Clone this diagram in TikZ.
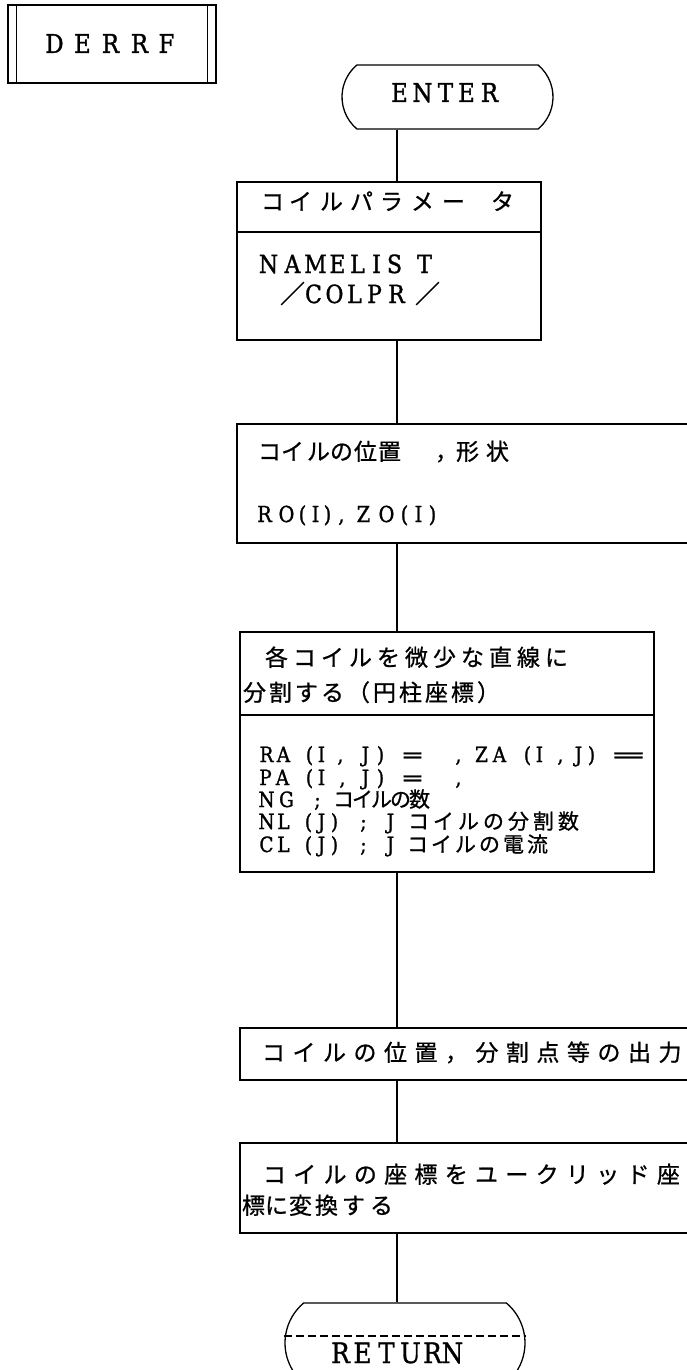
\documentclass[tikz,border=0pt]{standalone}
\usepackage{fontspec}
\usepackage{graphicx}
\setmainfont{DejaVu Serif}[FakeStretch=0.88,FakeBold=1.2]
\newfontfamily\jp{Noto Sans CJK JP}[FakeBold=0.8]
\usetikzlibrary{shapes.misc}
\newdimen\lspos
\def\lsendmark{\lsend}
\newcommand\lsc[3]{\lspos=#1pt\relax\def\lsp{#2pt}\lsloop#3\lsend}
\def\lsloop#1{\def\lsarg{#1}\ifx\lsarg\lsendmark\else\rlap{\hspace*{\lspos}\makebox[0pt]{#1}}\advance\lspos by \lsp\relax\expandafter\lsloop\fi}
\newcommand\putc[2]{\rlap{\hspace*{#1pt}\makebox[0pt]{#2}}}
\newcommand\bigL{\fontsize{26}{30}\selectfont}
\newcommand\retL{\fontsize{28}{32}\selectfont}
\newcommand\midL{\fontsize{25}{29}\selectfont}
\newcommand\smL{\fontsize{21}{25}\selectfont}
\newcommand\roL{\fontsize{22}{26}\selectfont}
\newcommand\jpM{\jp\fontsize{23}{27}\selectfont}
\newcommand\jpS{\jp\fontsize{21}{25}\selectfont}
\tikzset{
  box/.style={draw, line width=1.3pt, rectangle, inner sep=0pt},
  term/.style={draw, line width=1.3pt, rounded rectangle, rounded rectangle arc length=100, inner sep=0pt},
  txt/.style={anchor=base west, inner sep=0pt, outer sep=0pt},
  conn/.style={line width=1.3pt},
}
\begin{document}
\begin{tikzpicture}[x=1pt,y=-1pt]
\clip (0,0) rectangle (687,1370);
\fill[white] (0,0) rectangle (687,1370);
% DERRF
\node[box, minimum width=208pt, minimum height=78pt] (derrf) at (112,44) {};
\draw[conn] ([xshift=9pt]derrf.north west) -- ([xshift=9pt]derrf.south west);
\draw[conn] ([xshift=-9pt]derrf.north east) -- ([xshift=-9pt]derrf.south east);
\node[txt] (tderrf) at (0,53) {\bigL\putc{54}{D}\putc{82}{E}\putc{110}{R}\putc{139}{R}\putc{166}{F}};
% ENTER
\node[term, minimum width=211pt, minimum height=64pt] (enter) at (447.5,97) {};
\node[txt] (tenter) at (0,102) {\bigL\putc{399}{E}\putc{422}{N}\putc{445}{T}\putc{466}{E}\putc{489}{R}};
% box 1
\node[box, minimum width=304pt, minimum height=158pt] (b1) at (389,261) {};
\draw[conn] (b1.west |- 0,232) -- (b1.east |- 0,232);
\node[txt] (t1a) at (0,210) {\jpM\putc{272}{コ}\putc{300}{イ}\putc{331}{ル}\putc{361}{パ}\putc{391}{ラ}\putc{422}{メ}\putc{453}{ー}\putc{502}{タ}};
\node[txt] (t1b) at (0,273) {\midL\putc{268}{N}\putc{292}{A}\putc{315}{M}\putc{337}{E}\putc{357}{L}\putc{376}{I}\putc{394}{S}\putc{424}{T}};
\node[txt] (t1c) at (0,303) {\midL\putc{292}{\jp ／}\putc{313}{C}\putc{334}{O}\putc{354}{L}\putc{374}{P}\putc{396}{R}\putc{427}{\jp ／}};
% box 2
\node[box, minimum width=463pt, minimum height=119pt] (b2) at (468.5,483.5) {};
\node[txt] (t2a) at (0,460) {\jpM\putc{269}{コ}\putc{292}{イ}\putc{318}{ル}\putc{341}{の}\putc{365}{位}\putc{389}{置}\putc{446}{，}\putc{467}{形}\putc{497}{状}};
\node[txt] (t2b) at (0,522) {\roL\putc{264}{R}\putc{286}{O}\putc{302}{(}\putc{315}{I}\putc{327}{)}\putc{341}{,}\putc{363}{Z}\putc{386}{O}\putc{404}{(}\putc{418}{I}\putc{432}{)}};
% box 3
\node[box, minimum width=414pt, minimum height=240pt] (b3) at (447,752) {};
\draw[conn] (b3.west |- 0,715) -- (b3.east |- 0,715);
\node[txt] (t3a) at (0,666) {\jpM\lsc{276}{28}{各コイルを微少な直線に}};
\node[txt] (t3b) at (0,701) {\jpM\lsc{254}{26}{分割する（円柱座標）}};
\node[txt] (t3c) at (0,762) {\smL\putc{266}{R}\putc{283}{A}\putc{309}{(}\putc{321}{I}\putc{340}{,}\putc{365}{J}\putc{380}{)}\putc{412}{\scalebox{1.5}[1]{=}}\putc{458}{,}\putc{481}{Z}\putc{499}{A}\putc{527}{(}\putc{539}{I}\putc{560}{,}\putc{578}{J}\putc{591}{)}\putc{628}{\scalebox{2.4}[1]{=}}};
\node[txt] (t3d) at (0,785) {\smL\putc{265}{P}\putc{282}{A}\putc{309}{(}\putc{321}{I}\putc{342}{,}\putc{365}{J}\putc{380}{)}\putc{412}{\scalebox{1.5}[1]{=}}\putc{458}{,}};
\node[txt] (t3e) at (0,807) {\smL\putc{266}{N}\putc{286}{G}\putc{317}{;}\jpS\lsc{343}{19}{コイルの数}};
\node[txt] (t3f) at (0,829) {\smL\putc{266}{N}\putc{283}{L}\putc{308}{(}\putc{321}{J}\putc{334}{)}\putc{363}{;}\putc{390}{J}\jpS\lsc{418}{25}{コイルの分割数}};
\node[txt] (t3g) at (0,852) {\smL\putc{266}{C}\putc{283}{L}\putc{308}{(}\putc{321}{J}\putc{334}{)}\putc{363}{;}\putc{390}{J}\jpS\lsc{417}{24}{コイルの電流}};
% box 4
\node[box, minimum width=460pt, minimum height=52pt] (b4) at (470,1054) {};
\node[txt] (t4) at (0,1061) {\jpM\lsc{273}{30.5}{コイルの位置，分割点等の出力}};
% box 5
\node[box, minimum width=460pt, minimum height=90pt] (b5) at (470,1188) {};
\node[txt] (t5a) at (0,1183) {\jpM\lsc{274}{30.3}{コイルの座標をユークリッド座}};
\node[txt] (t5b) at (0,1214) {\jpM\putc{253}{標}\putc{276}{に}\putc{300}{変}\putc{326}{換}\putc{353}{す}\putc{381}{る}};
% RETURN
\node[term, minimum width=240pt, minimum height=80pt] (ret) at (405,1343) {};
\draw[line width=1.3pt, dash pattern=on 8pt off 4pt] ([yshift=7pt]ret.west) -- ([yshift=7pt]ret.east);
\node[txt] (tret) at (0,1363) {\retL\putc{340}{R}\putc{362}{E}\putc{386}{T}\putc{410}{U}\putc{432}{R}\putc{452}{N}};
% connectors
\coordinate (spine) at (397,0);
\draw[conn] (enter.south -| spine) -- (b1.north -| spine);
\draw[conn] (b1.south -| spine) -- (b2.north -| spine);
\draw[conn] (b2.south -| spine) -- (b3.north -| spine);
\draw[conn] (b3.south -| spine) -- (b4.north -| spine);
\draw[conn] (b4.south -| spine) -- (b5.north -| spine);
\draw[conn] (b5.south -| spine) -- (ret.north -| spine);
\end{tikzpicture}
\end{document}
